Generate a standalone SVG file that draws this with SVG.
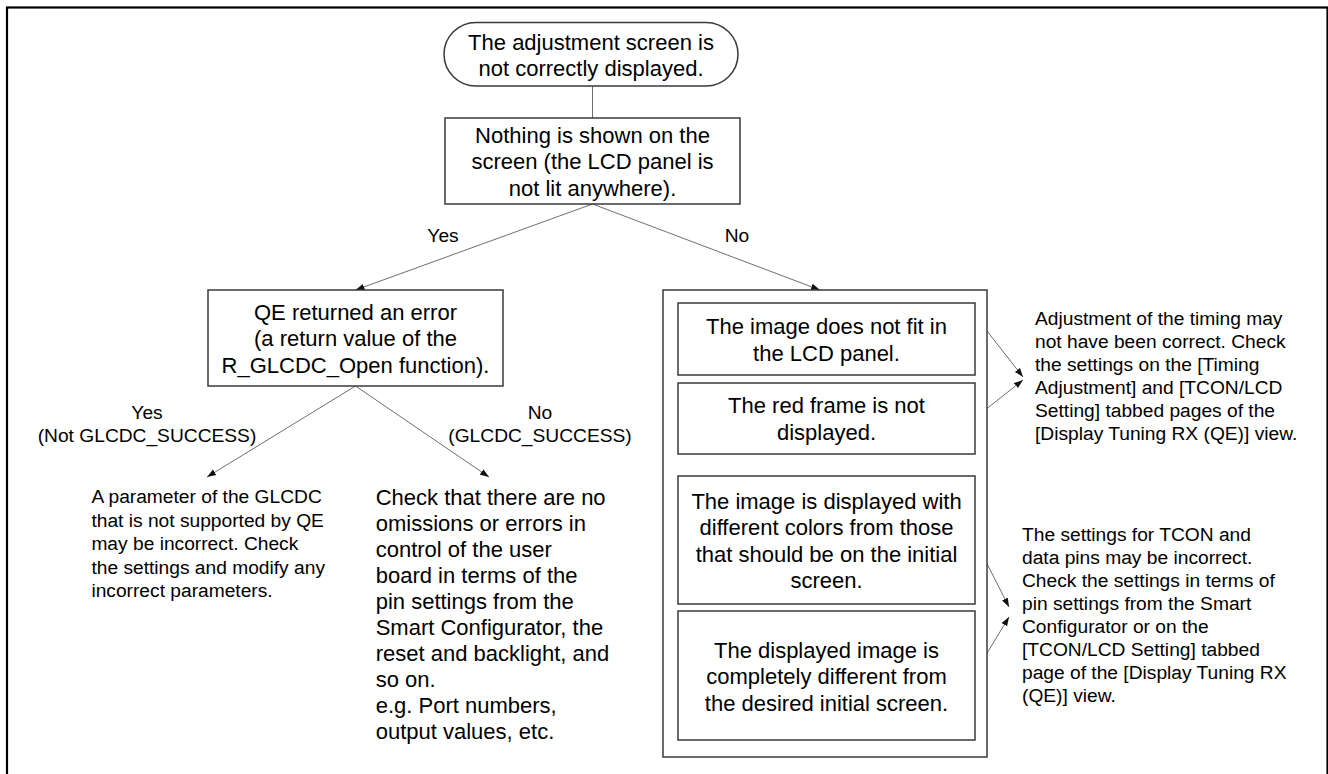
<svg xmlns="http://www.w3.org/2000/svg" width="1328" height="774" viewBox="0 0 1328 774">
<style>
text{font-family:"Liberation Sans",Arial,sans-serif;fill:#000}
.b{font-size:22px;text-anchor:middle}
.s{font-size:19.2px}
.sc{font-size:19.2px;text-anchor:middle}
.p{font-size:22px}
.box{fill:#fff;stroke:#3a3a3a;stroke-width:1.5}
.c{stroke:#6e6e6e;stroke-width:1;fill:none}
</style>
<defs>
<marker id="ah" markerUnits="userSpaceOnUse" markerWidth="10" markerHeight="8" refX="9" refY="4" orient="auto">
<path d="M0,0.8 L9,4 L0,7.2 z" fill="#111"/>
</marker>
</defs>
<rect x="7" y="7.5" width="1320.5" height="800" fill="none" stroke="#000" stroke-width="2.2"/>

<g id="connectors">
<line class="c" x1="592.5" y1="86" x2="592.5" y2="118"/>
<line class="c" x1="592.5" y1="204" x2="355.5" y2="290" marker-end="url(#ah)"/>
<line class="c" x1="592.5" y1="204" x2="820" y2="290" marker-end="url(#ah)"/>
<line class="c" x1="355.5" y1="386" x2="207" y2="477" marker-end="url(#ah)"/>
<line class="c" x1="355.5" y1="386" x2="489" y2="477" marker-end="url(#ah)"/>
<line class="c" x1="987" y1="331" x2="1023" y2="377" marker-end="url(#ah)"/>
<line class="c" x1="975" y1="418" x2="1023" y2="380" marker-end="url(#ah)"/>
<line class="c" x1="975" y1="540" x2="1009" y2="607" marker-end="url(#ah)"/>
<line class="c" x1="975" y1="673" x2="1009" y2="617" marker-end="url(#ah)"/>
<text class="sc" x="443" y="242">Yes</text>
<text class="sc" x="737" y="242">No</text>
<text class="sc" x="147" y="419">Yes</text>
<text class="sc" x="147" y="442">(Not GLCDC_SUCCESS)</text>
<text class="sc" x="540" y="419">No</text>
<text class="sc" x="540" y="442">(GLCDC_SUCCESS)</text>
</g>

<g id="start">
<rect class="box" x="444" y="22.5" width="294" height="63.5" rx="32" ry="32"/>
<text class="b" x="591" y="49.5">The adjustment screen is</text>
<text class="b" x="591" y="76">not correctly displayed.</text>
</g>

<g id="nothing-shown">
<rect class="box" x="445" y="118" width="295" height="86"/>
<text class="b" x="592.5" y="143">Nothing is shown on the</text>
<text class="b" x="592.5" y="169.4">screen (the LCD panel is</text>
<text class="b" x="592.5" y="195.8">not lit anywhere).</text>
</g>

<g id="qe-error">
<rect class="box" x="208" y="290" width="295" height="96"/>
<text class="b" x="355.5" y="319.5">QE returned an error</text>
<text class="b" x="355.5" y="346">(a return value of the</text>
<text class="b" x="355.5" y="372.5">R_GLCDC_Open function).</text>
</g>

<g id="param-incorrect">
<text class="s" x="91.4" y="503">A parameter of the GLCDC</text>
<text class="s" x="91.4" y="526.5">that is not supported by QE</text>
<text class="s" x="91.4" y="550">may be incorrect. Check</text>
<text class="s" x="91.4" y="573.5">the settings and modify any</text>
<text class="s" x="91.4" y="597">incorrect parameters.</text>
</g>

<g id="check-omissions">
<text class="p" x="375.7" y="505">Check that there are no</text>
<text class="p" x="375.7" y="531">omissions or errors in</text>
<text class="p" x="375.7" y="557">control of the user</text>
<text class="p" x="375.7" y="583">board in terms of the</text>
<text class="p" x="375.7" y="609">pin settings from the</text>
<text class="p" x="375.7" y="635">Smart Configurator, the</text>
<text class="p" x="375.7" y="661">reset and backlight, and</text>
<text class="p" x="375.7" y="687">so on.</text>
<text class="p" x="375.7" y="713">e.g. Port numbers,</text>
<text class="p" x="375.7" y="739">output values, etc.</text>
</g>

<g id="no-group">
<rect class="box" x="663" y="290" width="324" height="467"/>
</g>

<g id="not-fit">
<rect class="box" x="678" y="303" width="297" height="72"/>
<text class="b" x="826.5" y="334">The image does not fit in</text>
<text class="b" x="826.5" y="361">the LCD panel.</text>
</g>

<g id="red-frame">
<rect class="box" x="678" y="383" width="297" height="71"/>
<text class="b" x="826.5" y="413">The red frame is not</text>
<text class="b" x="826.5" y="440">displayed.</text>
</g>

<g id="different-colors">
<rect class="box" x="678" y="476" width="297" height="128"/>
<text class="b" x="826.5" y="508.5">The image is displayed with</text>
<text class="b" x="826.5" y="535">different colors from those</text>
<text class="b" x="826.5" y="561.5">that should be on the initial</text>
<text class="b" x="826.5" y="588">screen.</text>
</g>

<g id="completely-different">
<rect class="box" x="678" y="611" width="297" height="129"/>
<text class="b" x="826.5" y="658">The displayed image is</text>
<text class="b" x="826.5" y="684.4">completely different from</text>
<text class="b" x="826.5" y="710.8">the desired initial screen.</text>
</g>

<g id="timing-note">
<text class="s" x="1035" y="325">Adjustment of the timing may</text>
<text class="s" x="1035" y="348">not have been correct. Check</text>
<text class="s" x="1035" y="371">the settings on the [Timing</text>
<text class="s" x="1035" y="394">Adjustment] and [TCON/LCD</text>
<text class="s" x="1035" y="417">Setting] tabbed pages of the</text>
<text class="s" x="1035" y="440">[Display Tuning RX (QE)] view.</text>
</g>

<g id="pins-note">
<text class="s" x="1022" y="541">The settings for TCON and</text>
<text class="s" x="1022" y="564">data pins may be incorrect.</text>
<text class="s" x="1022" y="587">Check the settings in terms of</text>
<text class="s" x="1022" y="610">pin settings from the Smart</text>
<text class="s" x="1022" y="633">Configurator or on the</text>
<text class="s" x="1022" y="656">[TCON/LCD Setting] tabbed</text>
<text class="s" x="1022" y="679">page of the [Display Tuning RX</text>
<text class="s" x="1022" y="702">(QE)] view.</text>
</g>
</svg>
